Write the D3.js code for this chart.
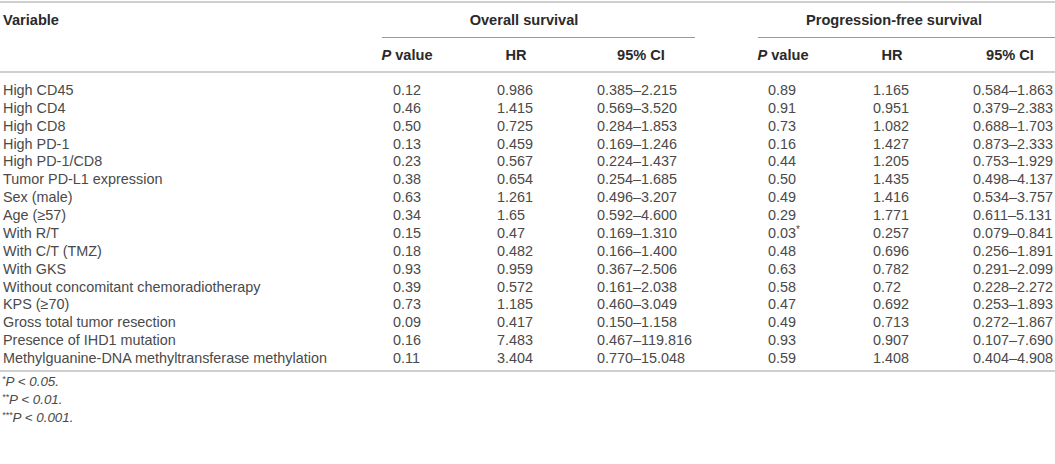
<!DOCTYPE html>
<html>
<head>
<meta charset="utf-8">
<script src="https://cdn.jsdelivr.net/npm/d3@7"></script>
<style>
  body { margin: 0; background: #fff; }
</style>
</head>
<body>
<div id="chart"></div>
<script>
// table content
const variables = [
  "High CD45", "High CD4", "High CD8", "High PD-1", "High PD-1/CD8",
  "Tumor PD-L1 expression", "Sex (male)", "Age (≥57)", "With R/T",
  "With C/T (TMZ)", "With GKS", "Without concomitant chemoradiotherapy",
  "KPS (≥70)", "Gross total tumor resection", "Presence of IHD1 mutation",
  "Methylguanine-DNA methyltransferase methylation"
]
const osP = ["0.12", "0.46", "0.50", "0.13", "0.23", "0.38", "0.63", "0.34", "0.15", "0.18", "0.93", "0.39", "0.73", "0.09", "0.16", "0.11"]
const osHR = ["0.986", "1.415", "0.725", "0.459", "0.567", "0.654", "1.261", "1.65", "0.47", "0.482", "0.959", "0.572", "1.185", "0.417", "7.483", "3.404"]
const osCI = ["0.385–2.215", "0.569–3.520", "0.284–1.853", "0.169–1.246", "0.224–1.437", "0.254–1.685", "0.496–3.207", "0.592–4.600", "0.169–1.310", "0.166–1.400", "0.367–2.506", "0.161–2.038", "0.460–3.049", "0.150–1.158", "0.467–119.816", "0.770–15.048"]
const pfsP = ["0.89", "0.91", "0.73", "0.16", "0.44", "0.50", "0.49", "0.29", "0.03*", "0.48", "0.63", "0.58", "0.47", "0.49", "0.93", "0.59"]
const pfsHR = ["1.165", "0.951", "1.082", "1.427", "1.205", "1.435", "1.416", "1.771", "0.257", "0.696", "0.782", "0.72", "0.692", "0.713", "0.907", "1.408"]
const pfsCI = ["0.584–1.863", "0.379–2.383", "0.688–1.703", "0.873–2.333", "0.753–1.929", "0.498–4.137", "0.534–3.757", "0.611–5.131", "0.079–0.841", "0.256–1.891", "0.291–2.099", "0.228–2.272", "0.253–1.893", "0.272–1.867", "0.107–7.690", "0.404–4.908"]

const groups = ["Overall survival", "Progression-free survival"]
const subHeaders = ["P value", "HR", "95% CI", "P value", "HR", "95% CI"]
const footnotes = [["*", "P < 0.05."], ["**", "P < 0.01."], ["***", "P < 0.001."]]

const WIDTH = 1055
const HEIGHT = 464
const FONT = "'Liberation Sans', Arial, Helvetica, sans-serif"
const TEXT = "#4a4a4a"
const HEAD = "#2a2a2a"

const columns = [osP, osHR, osCI, pfsP, pfsHR, pfsCI]
const colKeys = d3.range(columns.length)

// left edge of each value column
const x = d3.scaleOrdinal()
    .domain(colKeys)
    .range([393, 497, 597, 768, 873, 973])

// centre of each column header
const xHead = d3.scaleOrdinal()
    .domain(colKeys)
    .range([407, 516, 641, 783, 892, 1010])

const y = d3.scalePoint()
    .domain(d3.range(variables.length))
    .range([95, 95 + 15 * 17.87])

const svg = d3.select("#chart")
    .append("svg")
    .attr("width", WIDTH)
    .attr("height", HEIGHT)
    .attr("font-family", FONT)

// rules
const rules = [
  {x1: 0, x2: WIDTH, y: 2, w: 2, c: "#cfcfcf"},
  {x1: 382, x2: 695, y: 37.5, w: 1, c: "#9a9a9a"},
  {x1: 758, x2: WIDTH, y: 37.5, w: 1, c: "#9a9a9a"},
  {x1: 0, x2: WIDTH, y: 72, w: 2, c: "#cfcfcf"},
  {x1: 0, x2: WIDTH, y: 371, w: 2, c: "#cfcfcf"}
]
svg.append("g")
    .selectAll("line")
    .data(rules)
    .join("line")
    .attr("x1", d => d.x1)
    .attr("x2", d => d.x2)
    .attr("y1", d => d.y)
    .attr("y2", d => d.y)
    .attr("stroke", d => d.c)
    .attr("stroke-width", d => d.w)

// header row 1
const head = svg.append("g")
    .attr("font-weight", "bold")
    .attr("font-size", 14.6)
    .attr("fill", HEAD)

head.append("text")
    .attr("x", 3)
    .attr("y", 25)
    .text("Variable")

head.selectAll("text.group")
    .data(groups)
    .join("text")
    .attr("class", "group")
    .attr("text-anchor", "middle")
    .attr("x", (d, i) => i === 0 ? 524 : 894)
    .attr("y", 25)
    .text(d => d)

// header row 2
head.selectAll("text.sub")
    .data(subHeaders)
    .join("text")
    .attr("class", "sub")
    .attr("text-anchor", "middle")
    .attr("x", (d, i) => xHead(i))
    .attr("y", 60)
    .each(function(d) {
        const t = d3.select(this)
        if (d.startsWith("P ")) {
            t.append("tspan").attr("font-style", "italic").text("P")
            t.append("tspan").text(" value")
        } else {
            t.text(d)
        }
    })

// body
const body = svg.append("g")
    .attr("font-size", 14.4)
    .attr("fill", TEXT)

body.selectAll("text.var")
    .data(variables)
    .join("text")
    .attr("class", "var")
    .attr("x", 3)
    .attr("y", (d, i) => y(i))
    .text(d => d)

colKeys.forEach(c => {
    body.append("g")
        .selectAll("text")
        .data(columns[c])
        .join("text")
        .attr("x", x(c))
        .attr("y", (d, i) => y(i))
        .each(function(d) {
            const t = d3.select(this)
            if (d.endsWith("*")) {
                t.append("tspan").text(d.replace(/\*+$/, ""))
                t.append("tspan")
                    .attr("font-size", 10)
                    .attr("dy", -5)
                    .text(d.match(/\*+$/)[0])
            } else {
                t.text(d)
            }
        })
})

// footnotes
svg.append("g")
    .attr("font-size", 13.4)
    .attr("font-style", "italic")
    .attr("fill", TEXT)
    .selectAll("text")
    .data(footnotes)
    .join("text")
    .attr("x", 2)
    .attr("y", (d, i) => 386 + i * 18)
    .each(function(d) {
        const t = d3.select(this)
        t.append("tspan").attr("font-size", 9).attr("dy", -4).text(d[0])
        t.append("tspan").attr("dy", 4).text(d[1])
    })
</script>
</body>
</html>
